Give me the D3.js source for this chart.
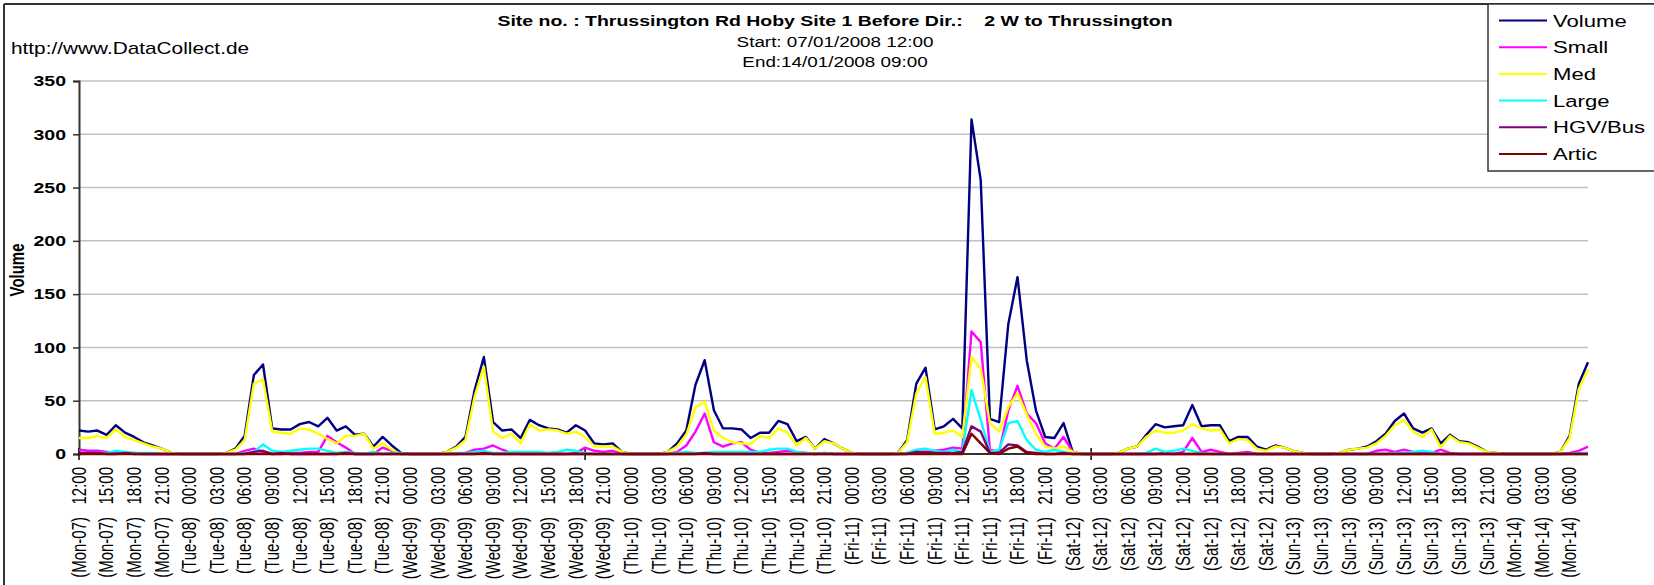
<!DOCTYPE html>
<html>
<head>
<meta charset="utf-8">
<script src="https://cdn.jsdelivr.net/npm/d3@7"></script>
<style>
  body { margin: 0; background: #fff; }
  svg { display: block; font-family: "Liberation Sans", Arial, sans-serif; }
</style>
</head>
<body>
<svg id="chart" width="1654" height="585"></svg>
<script>
// hourly counts, Mon-07 12:00 .. Mon-14 08:00
const days = ["Mon-07", "Tue-08", "Wed-09", "Thu-10", "Fri-11", "Sat-12", "Sun-13", "Mon-14"];
const firstHour = 12;

const volume = [
  22, 21, 22, 18, 27, 20, 16, 11, 8, 5, 1, 0,                                              // Mon-07
  0, 0, 0, 0, 1, 5, 17, 74, 84, 24, 23, 23, 28, 30, 26, 34, 22, 26, 18, 19, 7, 16, 8, 1,   // Tue-08
  0, 0, 0, 0, 2, 7, 16, 60, 91, 30, 22, 23, 15, 32, 27, 24, 23, 20, 27, 22, 10, 9, 10, 2,  // Wed-09
  0, 0, 0, 0, 2, 10, 22, 65, 88, 41, 24, 24, 23, 15, 20, 20, 31, 28, 12, 16, 5, 14, 10, 5, // Thu-10
  1, 0, 0, 0, 0, 1, 13, 66, 81, 23, 26, 33, 24, 314, 257, 33, 30, 122, 166, 88, 41, 16, 15, 29, // Fri-11
  2, 0, 0, 0, 0, 1, 5, 7, 18, 28, 25, 26, 27, 46, 26, 27, 27, 12, 16, 16, 7, 4, 8, 6,      // Sat-12
  3, 1, 0, 0, 0, 1, 4, 5, 7, 12, 19, 31, 38, 24, 20, 24, 10, 18, 12, 11, 7, 2, 1, 0,       // Sun-13
  0, 0, 0, 0, 0, 2, 17, 66, 86                                                             // Mon-14
];
const small = [
  4, 3, 3, 2, 1, 1, 1, 0, 0, 0, 0, 0,
  0, 0, 0, 0, 0, 0, 3, 5, 2, 0, 0, 1, 1, 2, 2, 17, 11, 6, 0, 0, 0, 6, 3, 0,
  0, 0, 0, 0, 0, 0, 1, 4, 5, 8, 4, 1, 0, 0, 0, 0, 0, 0, 1, 6, 3, 2, 3, 0,
  0, 0, 0, 0, 0, 2, 8, 21, 38, 11, 7, 10, 11, 4, 1, 1, 2, 3, 2, 1, 0, 1, 0, 0,
  0, 0, 0, 0, 0, 0, 1, 2, 2, 3, 4, 6, 5, 115, 105, 4, 2, 41, 64, 38, 29, 10, 5, 16,
  2, 0, 0, 0, 0, 0, 0, 0, 0, 0, 1, 0, 2, 15, 2, 4, 2, 0, 1, 2, 0, 0, 0, 0,
  0, 0, 0, 0, 0, 0, 0, 0, 0, 3, 4, 2, 4, 2, 1, 1, 4, 1, 0, 0, 0, 0, 0, 0,
  0, 0, 0, 0, 0, 0, 1, 3, 7
];
const med = [
  15, 15, 17, 15, 23, 16, 13, 10, 7, 5, 1, 0,
  0, 0, 0, 0, 1, 4, 13, 66, 70, 21, 20, 19, 24, 23, 19, 14, 10, 17, 17, 19, 5, 10, 4, 0,
  0, 0, 0, 0, 2, 6, 13, 54, 82, 21, 15, 19, 10, 28, 22, 23, 22, 19, 21, 16, 7, 7, 7, 2,
  0, 0, 0, 0, 2, 7, 18, 44, 49, 22, 15, 11, 10, 9, 17, 15, 24, 20, 8, 15, 5, 12, 10, 5,
  1, 0, 0, 0, 0, 1, 11, 57, 72, 19, 20, 22, 16, 91, 80, 29, 21, 44, 57, 37, 19, 7, 5, 7,
  2, 0, 0, 0, 0, 1, 5, 7, 16, 22, 20, 20, 22, 28, 24, 22, 23, 10, 14, 13, 5, 3, 7, 6,
  3, 1, 0, 0, 0, 1, 4, 5, 6, 10, 17, 27, 32, 21, 16, 23, 6, 17, 11, 10, 6, 2, 1, 0,
  0, 0, 0, 0, 0, 2, 15, 61, 79
];
const large = [
  1, 1, 1, 1, 3, 2, 1, 1, 1, 0, 0, 0,
  0, 0, 0, 0, 0, 0, 1, 2, 9, 3, 2, 3, 4, 5, 5, 3, 1, 2, 1, 0, 2, 0, 1, 1,
  0, 0, 0, 0, 0, 1, 1, 2, 3, 1, 1, 2, 2, 2, 2, 1, 2, 4, 3, 1, 0, 0, 0, 0,
  0, 0, 0, 0, 0, 1, 2, 1, 1, 2, 2, 2, 2, 2, 2, 4, 5, 5, 2, 1, 0, 1, 0, 0,
  0, 0, 0, 0, 0, 0, 1, 4, 5, 3, 2, 4, 2, 60, 32, 2, 4, 29, 31, 13, 4, 2, 4, 2,
  0, 0, 0, 0, 0, 0, 0, 0, 1, 5, 2, 3, 5, 3, 1, 0, 0, 0, 0, 0, 0, 0, 0, 0,
  0, 0, 0, 0, 0, 0, 0, 0, 0, 0, 0, 1, 1, 2, 3, 2, 0, 0, 0, 0, 0, 0, 0, 0,
  0, 0, 0, 0, 0, 0, 0, 1, 1
];
const hgvBus = [
  1, 1, 1, 0, 0, 1, 0, 0, 0, 0, 0, 0,
  0, 0, 0, 0, 0, 0, 0, 2, 3, 0, 1, 0, 0, 0, 0, 0, 0, 1, 0, 0, 0, 0, 0, 0,
  0, 0, 0, 0, 0, 0, 0, 0, 1, 0, 0, 0, 0, 0, 0, 0, 0, 0, 0, 0, 0, 0, 0, 0,
  0, 0, 0, 0, 0, 0, 0, 0, 1, 0, 0, 0, 0, 0, 0, 0, 0, 0, 0, 0, 0, 0, 0, 0,
  0, 0, 0, 0, 0, 0, 0, 2, 2, 1, 1, 1, 2, 26, 21, 1, 1, 9, 8, 2, 1, 0, 0, 1,
  0, 0, 0, 0, 0, 0, 0, 0, 0, 0, 0, 0, 0, 0, 0, 0, 0, 0, 0, 0, 0, 0, 0, 0,
  0, 0, 0, 0, 0, 0, 0, 0, 0, 0, 0, 0, 0, 0, 0, 0, 0, 0, 0, 0, 0, 0, 0, 0,
  0, 0, 0, 0, 0, 0, 0, 0, 0
];
const artic = [
  0, 0, 0, 0, 0, 0, 0, 0, 0, 0, 0, 0,
  0, 0, 0, 0, 0, 0, 0, 0, 0, 0, 0, 0, 0, 0, 0, 0, 0, 0, 0, 0, 0, 0, 0, 0,
  0, 0, 0, 0, 0, 0, 0, 0, 0, 0, 0, 0, 0, 0, 0, 0, 0, 0, 0, 0, 0, 0, 0, 0,
  0, 0, 0, 0, 0, 0, 0, 0, 0, 0, 0, 0, 0, 0, 0, 0, 0, 0, 0, 0, 0, 0, 0, 0,
  0, 0, 0, 0, 0, 0, 0, 0, 0, 0, 0, 0, 0, 19, 10, 1, 0, 5, 7, 1, 0, 0, 0, 0,
  0, 0, 0, 0, 0, 0, 0, 0, 0, 0, 0, 0, 0, 0, 0, 0, 0, 0, 0, 0, 0, 0, 0, 0,
  0, 0, 0, 0, 0, 0, 0, 0, 0, 0, 0, 0, 0, 0, 0, 0, 0, 0, 0, 0, 0, 0, 0, 0,
  0, 0, 0, 0, 0, 0, 0, 0, 0
];

const seriesNames = ["Volume", "Small", "Med", "Large", "HGV/Bus", "Artic"];
const seriesColors = ["#000080", "#ff00ff", "#ffff00", "#00ffff", "#800080", "#800000"];
const seriesValues = [volume, small, med, large, hgvBus, artic];
const yTicks = [0, 50, 100, 150, 200, 250, 300, 350];
const labelEvery = 3;   // a label every 3 hours
const tickEvery = 55;   // excel put a cross tick every 55 categories

// category names, one per hour
const categories = volume.map((v, i) => {
  const h = firstHour + i;
  return "(" + days[Math.floor(h / 24)] + ")   " + String(h % 24).padStart(2, "0") + ":00";
});

const SX = 1.3; // the original text is stretched sideways

const svg = d3.select("#chart");
svg.append("rect").attr("width", 1654).attr("height", 585).attr("fill", "#fff");

const x = d3.scalePoint().domain(categories).range([79, 1588]);
const y = d3.scaleLinear().domain([0, 350]).range([454, 81]);

function wideText(px, py, str, size, weight, anchor) {
  return svg.append("text")
    .attr("transform", `translate(${px},${py}) scale(${SX},1)`)
    .attr("text-anchor", anchor || "start")
    .style("font-size", size + "px")
    .style("font-weight", weight || "normal")
    .attr("fill", "#000")
    .text(str);
}

// outer frame
svg.append("line").attr("x1", 4).attr("x2", 1654).attr("y1", 4).attr("y2", 4)
  .attr("stroke", "#333").attr("stroke-width", 2);
svg.append("line").attr("x1", 4).attr("x2", 4).attr("y1", 4).attr("y2", 585)
  .attr("stroke", "#333").attr("stroke-width", 2);

// header texts
wideText(835, 26, "Site no. : Thrussington Rd Hoby Site 1 Before Dir.:    2 W to Thrussington", 15, "bold", "middle")
  .style("white-space", "pre");
wideText(835, 47, "Start: 07/01/2008 12:00", 14.5, "normal", "middle");
wideText(835, 67, "End:14/01/2008 09:00", 14.5, "normal", "middle");
wideText(11, 54, "http://www.DataCollect.de", 16, "normal", "start");

// grid
svg.append("g")
  .selectAll("line")
  .data(yTicks.filter(d => d > 0))
  .enter().append("line")
    .attr("x1", 79).attr("x2", 1588)
    .attr("y1", d => y(d)).attr("y2", d => y(d))
    .attr("stroke", "#c0c0c0").attr("stroke-width", 1.5);

// y axis
const yAxis = svg.append("g")
  .attr("transform", "translate(79,0)")
  .call(d3.axisLeft(y).tickValues(yTicks).tickSize(6).tickPadding(7));
yAxis.select(".domain").attr("stroke", "#333").attr("stroke-width", 2);
yAxis.selectAll(".tick line").attr("stroke", "#333").attr("stroke-width", 1.5);
yAxis.selectAll(".tick text")
  .attr("x", null)
  .attr("transform", `translate(-13,0) scale(${SX},1)`)
  .style("font-family", "\"Liberation Sans\", Arial, sans-serif")
  .style("font-size", "15px")
  .style("font-weight", "bold")
  .attr("fill", "#000");

svg.append("text")
  .attr("transform", `translate(24,270) scale(${SX},1) rotate(-90)`)
  .attr("text-anchor", "middle")
  .style("font-size", "15px")
  .style("font-weight", "bold")
  .text("Volume");

// x axis line and labels
svg.append("line")
  .attr("x1", 79).attr("x2", 1588).attr("y1", y(0)).attr("y2", y(0))
  .attr("stroke", "#333").attr("stroke-width", 2);

svg.append("g")
  .selectAll("line")
  .data(categories.filter((c, i) => i % tickEvery === 0))
  .enter().append("line")
    .attr("x1", d => x(d)).attr("x2", d => x(d))
    .attr("y1", y(0) - 6).attr("y2", y(0) + 6)
    .attr("stroke", "#000").attr("stroke-width", 1.5);

svg.append("g")
  .selectAll("text")
  .data(categories.filter((c, i) => i % labelEvery === 0))
  .enter().append("text")
    .attr("transform", d => `translate(${x(d)},467) scale(${SX},1) rotate(-90)`)
    .attr("dy", "0.35em")
    .attr("text-anchor", "end")
    .style("font-size", "15px")
    .style("white-space", "pre")
    .text(d => d);

// series
const line = d3.line()
  .x((v, i) => x(categories[i]))
  .y(v => y(v));

svg.append("g")
  .selectAll("path")
  .data(seriesValues)
  .enter().append("path")
    .attr("d", d => line(d))
    .attr("fill", "none")
    .attr("stroke", (d, i) => seriesColors[i])
    .attr("stroke-width", 2.4)
    .attr("stroke-linejoin", "round");

// legend
const legend = svg.append("g");
legend.append("rect")
  .attr("x", 1488).attr("y", 4).attr("width", 180).attr("height", 167)
  .attr("fill", "#fff").attr("stroke", "#333").attr("stroke-width", 1.5);

const rowY = d3.scalePoint().domain(seriesNames).range([20.5, 154]);
seriesNames.forEach((name, i) => {
  legend.append("line")
    .attr("x1", 1499).attr("x2", 1547)
    .attr("y1", rowY(name)).attr("y2", rowY(name))
    .attr("stroke", seriesColors[i]).attr("stroke-width", 2);
  legend.append("text")
    .attr("transform", `translate(1553,${rowY(name) + 6}) scale(${SX},1)`)
    .style("font-size", "17px")
    .text(name);
});
</script>
</body>
</html>
